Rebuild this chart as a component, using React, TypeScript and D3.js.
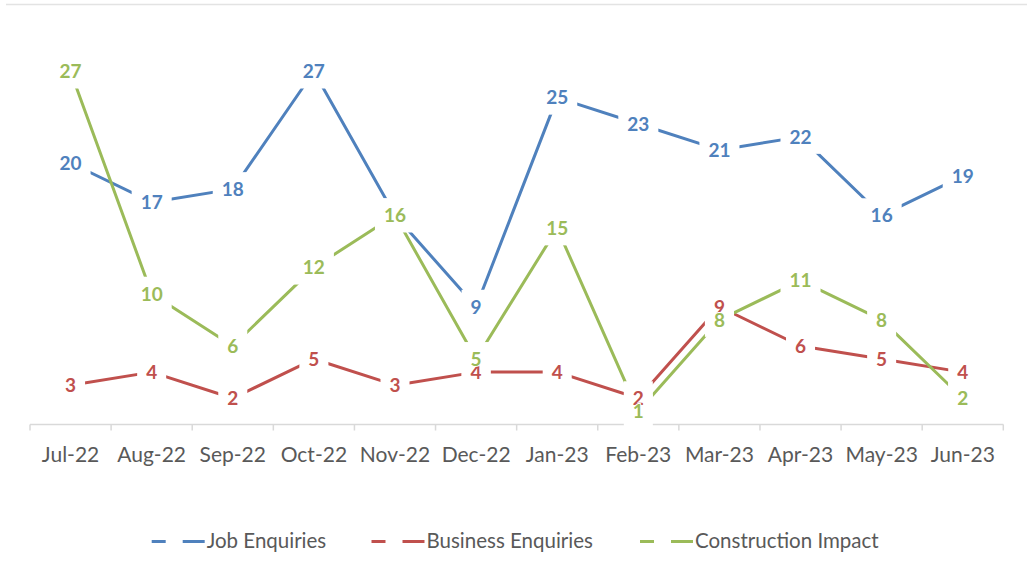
import React from "react";
import * as d3 from "d3";

const categories = ["Jul-22","Aug-22","Sep-22","Oct-22","Nov-22","Dec-22","Jan-23","Feb-23","Mar-23","Apr-23","May-23","Jun-23"];
const jobEnquiries = [20,17,18,27,16,9,25,23,21,22,16,19];
const businessEnquiries = [3,4,2,5,3,4,4,2,9,6,5,4];
const constructionImpact = [27,10,6,12,16,5,15,1,8,11,8,2];
const seriesNames = ["Job Enquiries","Business Enquiries","Construction Impact"];
const seriesColors = ["#4F81BD","#C0504D","#9BBB59"];

const W = 1027, H = 575;
const FONT = "Lato, 'Open Sans', sans-serif";

function textW(t: string, size: number, weight: string) {
  if (typeof document === "undefined") return t.length * size * 0.55;
  const c = (textW as any).c || ((textW as any).c = document.createElement("canvas"));
  const ctx = c.getContext("2d");
  ctx.font = `${weight} ${size}px Lato`;
  return ctx.measureText(t).width;
}

export default function App() {
  const series = [jobEnquiries, businessEnquiries, constructionImpact];
  const x = d3.scaleBand<string>().domain(categories).range([30, 1003.3]).padding(0);
  const y = d3.scaleLinear().domain([0, 30]).range([424.4, 32.3]);
  const cx = (i: number) => (x(categories[i]) as number) + x.bandwidth() / 2;
  const line = d3.line<number>().x((_, i) => cx(i)).y((v) => y(v));
  const labelSize = 19;
  const ticks = [...categories.map((c) => x(c) as number), 1003.3];

  const legendStarts = [151.7, 371.5, 640];

  return (
    <svg width={W} height={H} style={{ position: "absolute", left: 0, top: 0, background: "#fff" }} fontFamily={FONT}>
      <rect x={0} y={0} width={W} height={H} fill="#fff" />
      <line x1={6} x2={W} y1={4.5} y2={4.5} stroke="#e3e3e3" strokeWidth={1.5} />
      {/* axis */}
      <line x1={30} x2={1003.3} y1={424.4} y2={424.4} stroke="#d9d9d9" strokeWidth={1.5} />
      {ticks.map((t, i) => (
        <line key={i} x1={t} x2={t} y1={424.4} y2={430.5} stroke="#d9d9d9" strokeWidth={1.5} />
      ))}
      {categories.map((c, i) => (
        <text key={c} x={cx(i)} y={461.5} textAnchor="middle" fontSize={21} fill="#595959">{c}</text>
      ))}
      {/* lines */}
      {series.map((s, si) => (
        <path key={si} d={line(s) as string} fill="none" stroke={seriesColors[si]} strokeWidth={3} strokeLinejoin="round" />
      ))}
      {/* label boxes */}
      {series.map((s, si) => s.map((v, i) => {
        const w = textW(String(v), labelSize, "bold") + 18;
        return <rect key={`b${si}-${i}`} x={cx(i) - w / 2} y={y(v) - 17} width={w} height={34} fill="#fff" />;
      }))}
      {/* label texts */}
      {series.map((s, si) => s.map((v, i) => (
        <text key={`t${si}-${i}`} x={cx(i)} y={y(v) + labelSize * 0.36} textAnchor="middle" fontSize={labelSize} fontWeight="bold" fill={seriesColors[si]} stroke="#fff" strokeWidth={2} paintOrder="stroke" strokeLinejoin="round">{v}</text>
      )))}
      {/* legend */}
      {seriesNames.map((n, si) => {
        const x0 = legendStarts[si];
        return (
          <g key={n}>
            <line x1={x0} x2={x0 + 14} y1={541.5} y2={541.5} stroke={seriesColors[si]} strokeWidth={3} />
            <line x1={x0 + 31} x2={x0 + 53} y1={541.5} y2={541.5} stroke={seriesColors[si]} strokeWidth={3} />
            <text x={x0 + 55} y={548} fontSize={20.5} fill="#595959">{n}</text>
          </g>
        );
      })}
    </svg>
  );
}
